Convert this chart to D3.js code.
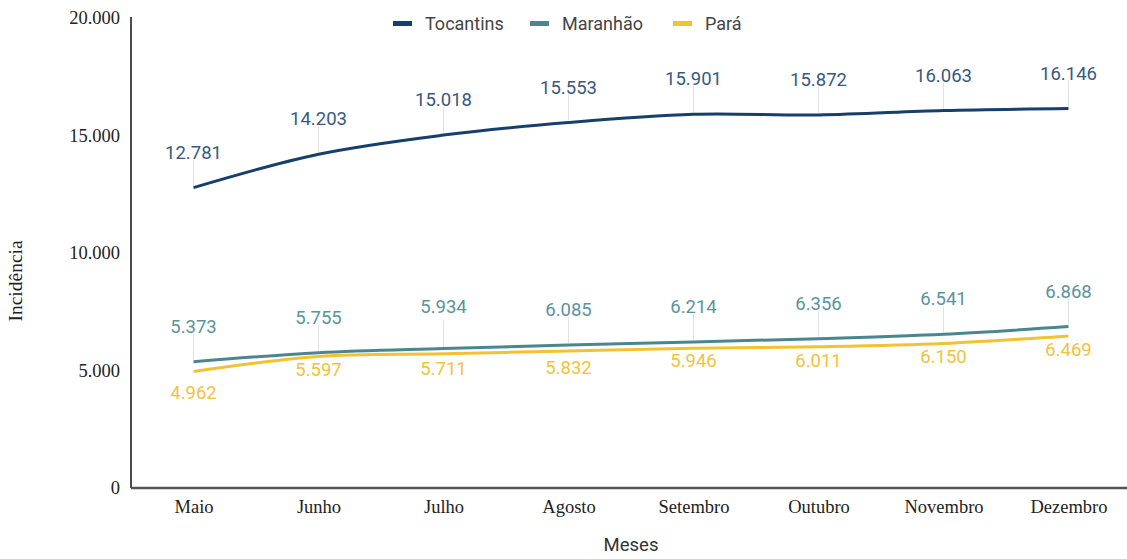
<!DOCTYPE html>
<html lang="pt">
<head>
    <meta charset="UTF-8">
    <title>Incidência por mês</title>
    <style>
        body { margin: 0; background: white; }
        #chart { width: 1127px; height: 559px; }
        .tick text { font-family: "Liberation Serif", serif; font-size: 18.5px; fill: #222; }
        .value-label { font-family: Roboto, sans-serif; font-size: 18.5px; }
        .legend text { font-family: Roboto, sans-serif; font-size: 18px; fill: #444; }
    </style>
    <script src="https://d3js.org/d3.v7.min.js"></script>
</head>
<body>
<div id="chart"></div>
<script>
    // Data
    const months = ["Maio", "Junho", "Julho", "Agosto", "Setembro", "Outubro", "Novembro", "Dezembro"];
    const tocantins = [12781, 14203, 15018, 15553, 15901, 15872, 16063, 16146];
    const maranhao = [5373, 5755, 5934, 6085, 6214, 6356, 6541, 6868];
    const para = [4962, 5597, 5711, 5832, 5946, 6011, 6150, 6469];
    const yTicks = [0, 5000, 10000, 15000, 20000];

    const series = [
        { name: "Tocantins", values: tocantins, color: "#173f6c", labelColor: "#38587f", side: "above" },
        { name: "Maranhão", values: maranhao, color: "#4a8690", labelColor: "#5a949c", side: "above" },
        { name: "Pará", values: para, color: "#f3c232", labelColor: "#f2c23c", side: "below" }
    ];

    const width = 1127, height = 559;
    const marginLeft = 131, plotTop = 18, plotBottom = 488;

    const svg = d3.select("#chart").append("svg")
        .attr("width", width)
        .attr("height", height);

    const x = d3.scalePoint()
        .domain(months)
        .range([marginLeft, marginLeft + 1000])
        .padding(0.5);

    const y = d3.scaleLinear()
        .domain([0, 20000])
        .range([plotBottom, plotTop]);

    // number format with dot as thousands separator
    const fmt = d3.formatLocale({ decimal: ",", thousands: ".", grouping: [3], currency: ["R$", ""] }).format(",d");

    // y axis
    const yAxis = svg.append("g")
        .attr("transform", `translate(${marginLeft},0)`)
        .call(d3.axisLeft(y).tickValues(yTicks).tickFormat(fmt).tickSize(0).tickPadding(11));
    yAxis.select(".domain").attr("stroke", "#111").attr("stroke-width", 1.5)
        .attr("d", `M0,${plotTop - 1}V${plotBottom}`);

    // x axis
    const xAxis = svg.append("g")
        .attr("transform", `translate(0,${plotBottom})`)
        .call(d3.axisBottom(x).tickSize(0).tickPadding(12));
    xAxis.select(".domain").attr("stroke", "#555").attr("stroke-width", 2.5)
        .attr("d", `M${marginLeft},0H${width}`);

    // axis titles
    svg.append("text")
        .attr("transform", `translate(22,${(plotTop + plotBottom) / 2 + 28}) rotate(-90)`)
        .attr("text-anchor", "middle")
        .style("font-family", "Liberation Serif, serif")
        .style("font-size", "19.5px")
        .attr("fill", "#222")
        .text("Incidência");

    svg.append("text")
        .attr("x", 631)
        .attr("y", 551)
        .attr("text-anchor", "middle")
        .style("font-family", "Roboto, sans-serif")
        .style("font-size", "18.5px")
        .attr("fill", "#333")
        .text("Meses");

    const line = d3.line()
        .x((d, i) => x(months[i]))
        .y(d => y(d))
        .curve(d3.curveCatmullRom.alpha(0.5));

    // leader lines first so they sit under the curves
    series.filter(s => s.side === "above").forEach(s => {
        svg.append("g").selectAll("line")
            .data(s.values)
            .enter().append("line")
            .attr("x1", (d, i) => x(months[i]))
            .attr("x2", (d, i) => x(months[i]))
            .attr("y1", d => y(d) - 2)
            .attr("y2", d => y(d) - 28)
            .attr("stroke", "#e2e2e2")
            .attr("stroke-width", 1);
    });

    series.forEach(s => {
        svg.append("path")
            .datum(s.values)
            .attr("fill", "none")
            .attr("stroke", s.color)
            .attr("stroke-width", 3)
            .attr("d", line);
    });

    // small nudges where the original moved labels apart
    const nudge = { "Maranhão": { 2: -7 }, "Pará": { 0: 8, 2: 1, 3: 3, 4: -1 } };

    series.forEach(s => {
        svg.append("g").selectAll("text")
            .data(s.values)
            .enter().append("text")
            .attr("class", "value-label")
            .attr("x", (d, i) => x(months[i]))
            .attr("y", (d, i) => {
                const n = (nudge[s.name] && nudge[s.name][i]) || 0;
                return s.side === "above" ? y(d) - 29 + n : y(d) + 20 + n;
            })
            .attr("text-anchor", "middle")
            .attr("fill", s.labelColor)
            .text(d => fmt(d));
    });

    // legend
    const legendX = [393, 530, 673];
    const legend = svg.append("g").attr("class", "legend");
    series.forEach((s, i) => {
        legend.append("rect")
            .attr("x", legendX[i])
            .attr("y", 21)
            .attr("width", 19)
            .attr("height", 5)
            .attr("fill", s.color);
        legend.append("text")
            .attr("x", legendX[i] + 32)
            .attr("y", 30)
            .text(s.name);
    });
</script>
</body>
</html>
